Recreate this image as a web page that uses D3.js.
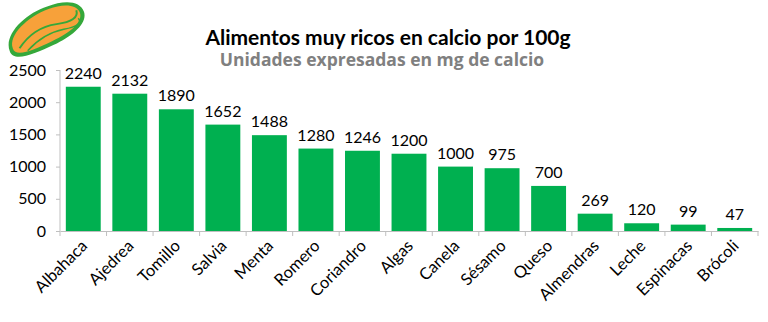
<!DOCTYPE html>
<html><head><meta charset="utf-8">
<script src="https://cdn.jsdelivr.net/npm/d3@7"></script>
<style>body{margin:0;background:#fff}svg{display:block}text{font-family:Lato,"Open Sans",sans-serif}</style>
</head><body>
<svg id="c" width="768" height="322"></svg>
<script>
const categories = ["Albahaca","Ajedrea","Tomillo","Salvia","Menta","Romero","Coriandro","Algas","Canela","Sésamo","Queso","Almendras","Leche","Espinacas","Brócoli"];
const values = [2240,2132,1890,1652,1488,1280,1246,1200,1000,975,700,269,120,99,47];
const yTicks = [0,500,1000,1500,2000,2500];
const title = "Alimentos muy ricos en calcio por 100g";
const subtitle = "Unidades expresadas en mg de calcio";

(function(){
const svg = d3.select("#c");
const pL = 60, pR = 758, pT = 70, pB = 231;
const x = d3.scaleBand().domain(categories).range([pL, pR]).paddingInner(0.25).paddingOuter(0.125);
const y = d3.scaleLinear().domain([0, 2500]).range([pB, pT]);

// logo
const logo = svg.append("g").attr("transform","translate(45,28) rotate(-28)");
logo.append("path").attr("d","M-42,4 C-40,-14 -10,-22 12,-18 C30,-16 44,-8 42,4 C40,16 20,20 0,19 C-22,18 -44,16 -42,4Z").attr("fill","#35a83a");
logo.append("path").attr("d","M-38,3 C-36,-11 -10,-18 12,-15 C28,-13 39,-6 38,3 C36,13 20,16 0,15 C-20,14 -40,13 -38,3Z").attr("fill","#f7a13a");
logo.append("path").attr("d","M-32,6 Q-10,-6 12,2 T36,-1").attr("stroke","#35a83a").attr("stroke-width",2).attr("fill","none");
logo.append("path").attr("d","M-26,12 Q-4,4 16,10 T34,7").attr("stroke","#35a83a").attr("stroke-width",1.5).attr("fill","none");

// titles
svg.append("text").attr("x",388).attr("y",45).attr("text-anchor","middle")
  .attr("font-size",21).attr("font-weight","bold").attr("fill","#000").text(title);
svg.append("text").attr("x",382).attr("y",66).attr("text-anchor","middle")
  .style("font-family","'Open Sans',sans-serif")
  .attr("font-size",17.5).attr("font-weight","bold").attr("fill","#808080").text(subtitle);

// y axis
const ya = svg.append("g").attr("transform",`translate(${pL},0)`)
  .call(d3.axisLeft(y).tickValues(yTicks).tickFormat(d3.format("d")).tickSize(4).tickPadding(10));
ya.select(".domain").attr("stroke","#bfbfbf").attr("d",`M0,${pT}V${pB}`);
ya.selectAll(".tick line").attr("stroke","#bfbfbf");
ya.selectAll(".tick text").attr("font-size",16).attr("fill","#000").style("font-family","Lato,sans-serif");

// x axis
const xa = svg.append("g").attr("transform",`translate(0,${pB})`)
  .call(d3.axisBottom(x).tickSize(0).tickFormat(""));
xa.select(".domain").attr("stroke","#bfbfbf");
const bnd = d3.range(categories.length + 1).map(i => pL + i * (pR-pL)/categories.length);
xa.selectAll(".bt").data(bnd).enter().append("line").attr("class","bt")
  .attr("x1",d=>d).attr("x2",d=>d).attr("y1",0).attr("y2",5).attr("stroke","#bfbfbf");
svg.append("g").selectAll("text").data(categories).enter().append("text")
  .attr("transform",d=>`translate(${x(d)+x.bandwidth()/2+5},${pB+16}) rotate(-45)`)
  .attr("text-anchor","end").attr("font-size",16.5).attr("fill","#000").text(d=>d);

// bars
svg.append("g").selectAll("rect").data(values).enter().append("rect")
  .attr("x",(d,i)=>x(categories[i])).attr("width",x.bandwidth())
  .attr("y",d=>y(d)).attr("height",d=>y(0)-y(d)).attr("fill","#00b050");
svg.append("g").selectAll("text").data(values).enter().append("text")
  .attr("x",(d,i)=>x(categories[i])+x.bandwidth()/2).attr("y",d=>y(d)-8)
  .attr("text-anchor","middle").attr("font-size",16).attr("fill","#000").text(d=>d);
})();
</script>
</body></html>
